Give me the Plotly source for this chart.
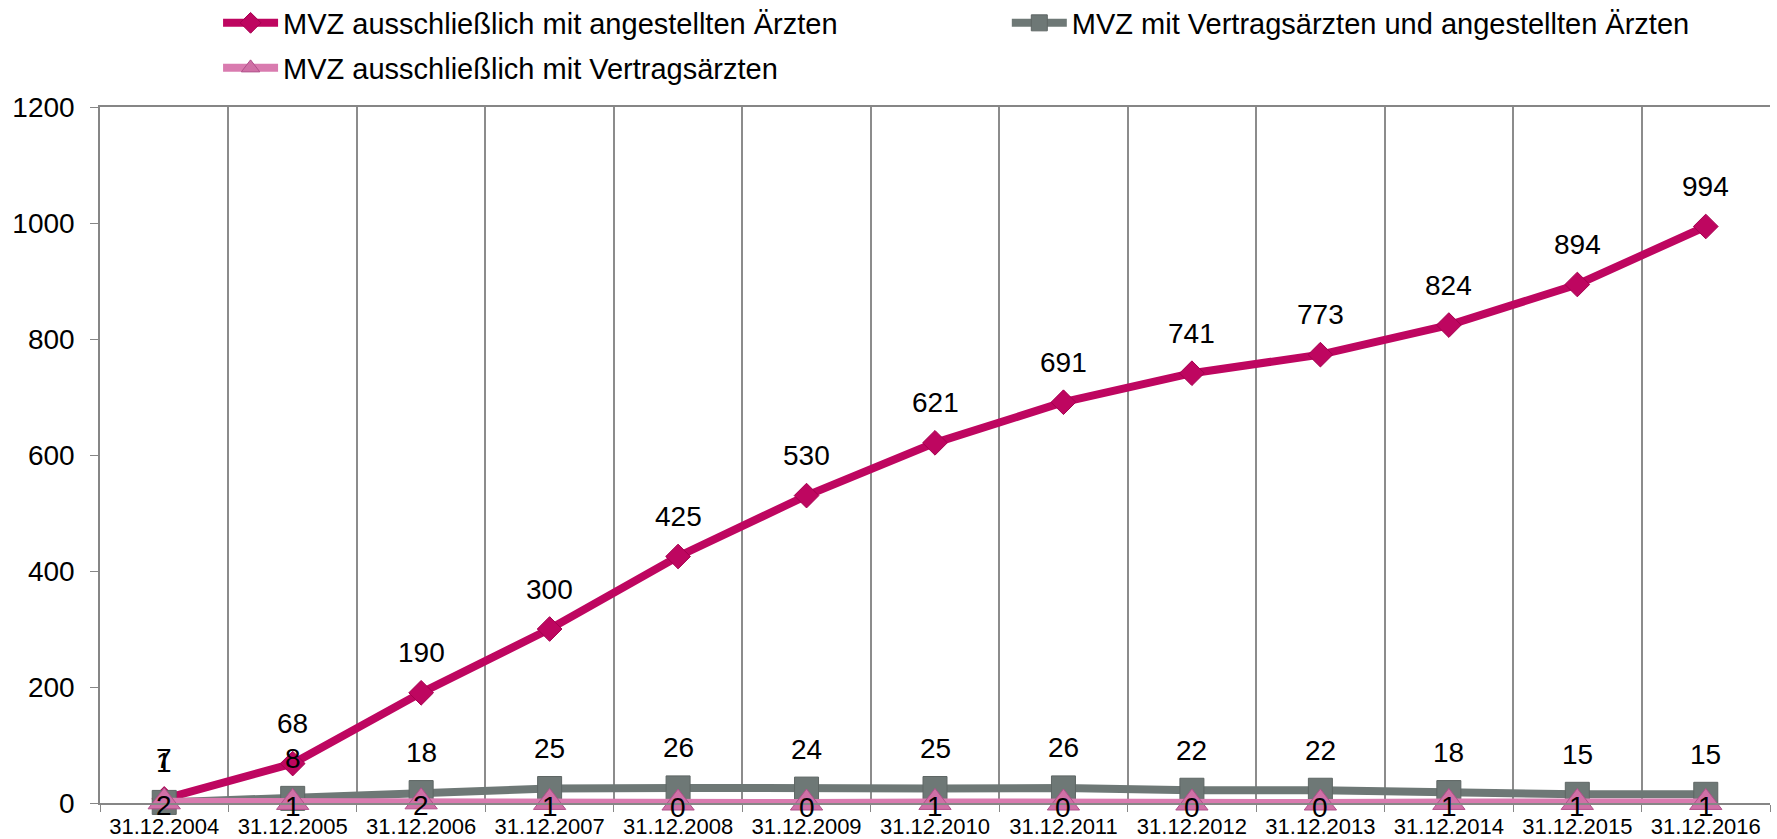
import plotly.graph_objects as go

# Stichtage
dates = ["31.12.2004", "31.12.2005", "31.12.2006", "31.12.2007", "31.12.2008",
         "31.12.2009", "31.12.2010", "31.12.2011", "31.12.2012", "31.12.2013",
         "31.12.2014", "31.12.2015", "31.12.2016"]

# Anzahl MVZ je Trägerstruktur
nur_angestellte = [7, 68, 190, 300, 425, 530, 621, 691, 741, 773, 824, 894, 994]
gemischt = [1, 8, 18, 25, 26, 24, 25, 26, 22, 22, 18, 15, 15]
nur_vertragsaerzte = [2, 1, 2, 1, 0, 0, 1, 0, 0, 0, 1, 1, 1]

y_ticks = [0, 200, 400, 600, 800, 1000, 1200]

FONT = "Liberation Sans, Arial, sans-serif"
C_ANG = "#BE0660"
C_GEM = "#6E7876"
C_VER = "#D97BAF"

fig = go.Figure()

fig.add_trace(go.Scatter(
    x=dates, y=nur_angestellte, mode="lines+markers",
    name="MVZ ausschließlich mit angestellten Ärzten",
    line=dict(color=C_ANG, width=8),
    marker=dict(symbol="diamond", size=19, color=C_ANG,
                line=dict(color="#A5004F", width=1)),
    cliponaxis=False, legend="legend",
))
fig.add_trace(go.Scatter(
    x=dates, y=gemischt, mode="lines+markers",
    name="MVZ mit Vertragsärzten und angestellten Ärzten",
    line=dict(color=C_GEM, width=8),
    marker=dict(symbol="square", size=24, color=C_GEM,
                line=dict(color="#5E6664", width=1)),
    cliponaxis=False, legend="legend2",
))
fig.add_trace(go.Scatter(
    x=dates, y=nur_vertragsaerzte, mode="lines+markers",
    name="MVZ ausschließlich mit Vertragsärzten",
    line=dict(color=C_VER, width=8),
    marker=dict(symbol="triangle-up", size=28, color="#D070A6",
                line=dict(color="#B0508A", width=1)),
    cliponaxis=False, legend="legend3",
))

# Datenbeschriftungen
LABEL_FONT = dict(size=28, color="black", family=FONT)
annotations = []
for d, v in zip(dates, nur_angestellte):
    annotations.append(dict(x=d, y=v, text=str(v), showarrow=False, yshift=40,
                            font=LABEL_FONT))
for d, v in zip(dates, gemischt):
    annotations.append(dict(x=d, y=v, text=str(v), showarrow=False, yshift=40,
                            font=LABEL_FONT))
for d, v in zip(dates, nur_vertragsaerzte):
    annotations.append(dict(x=d, y=v, text=str(v), showarrow=False, yshift=-4,
                            font=LABEL_FONT))

legend_style = dict(orientation="h", xanchor="left", yanchor="middle",
                    font=dict(size=29, family=FONT, color="black"),
                    itemwidth=55, bgcolor="rgba(0,0,0,0)")

fig.update_layout(
    width=1777, height=839,
    margin=dict(l=100, r=7, t=107, b=36, autoexpand=False),
    paper_bgcolor="white", plot_bgcolor="white",
    font=dict(family=FONT, color="black"),
    showlegend=True,
    legend=dict(x=0.0707, y=1.1207, **legend_style),
    legend2=dict(x=0.543, y=1.1207, **legend_style),
    legend3=dict(x=0.0707, y=1.056, **legend_style),
    annotations=annotations,
    xaxis=dict(
        type="category", categoryorder="array", categoryarray=dates,
        range=[-0.5, len(dates) - 0.5],
        tickson="boundaries", ticks="outside", ticklen=7, tickcolor="#868686",
        showgrid=True, gridcolor="#8C8C8C", gridwidth=1.5,
        showline=True, linecolor="#868686", linewidth=1.5, mirror=True,
        tickfont=dict(size=22, family=FONT, color="black"),
        ticklabelstandoff=3,
        fixedrange=True,
    ),
    yaxis=dict(
        range=[0, 1200], tickvals=y_ticks,
        ticks="outside", ticklen=8, tickcolor="#868686",
        showgrid=False, zeroline=False,
        showline=True, linecolor="#868686", linewidth=1.5,
        tickfont=dict(size=28, family=FONT, color="black"),
        ticklabelstandoff=10,
        fixedrange=True,
    ),
)

fig.write_html("out.html")
